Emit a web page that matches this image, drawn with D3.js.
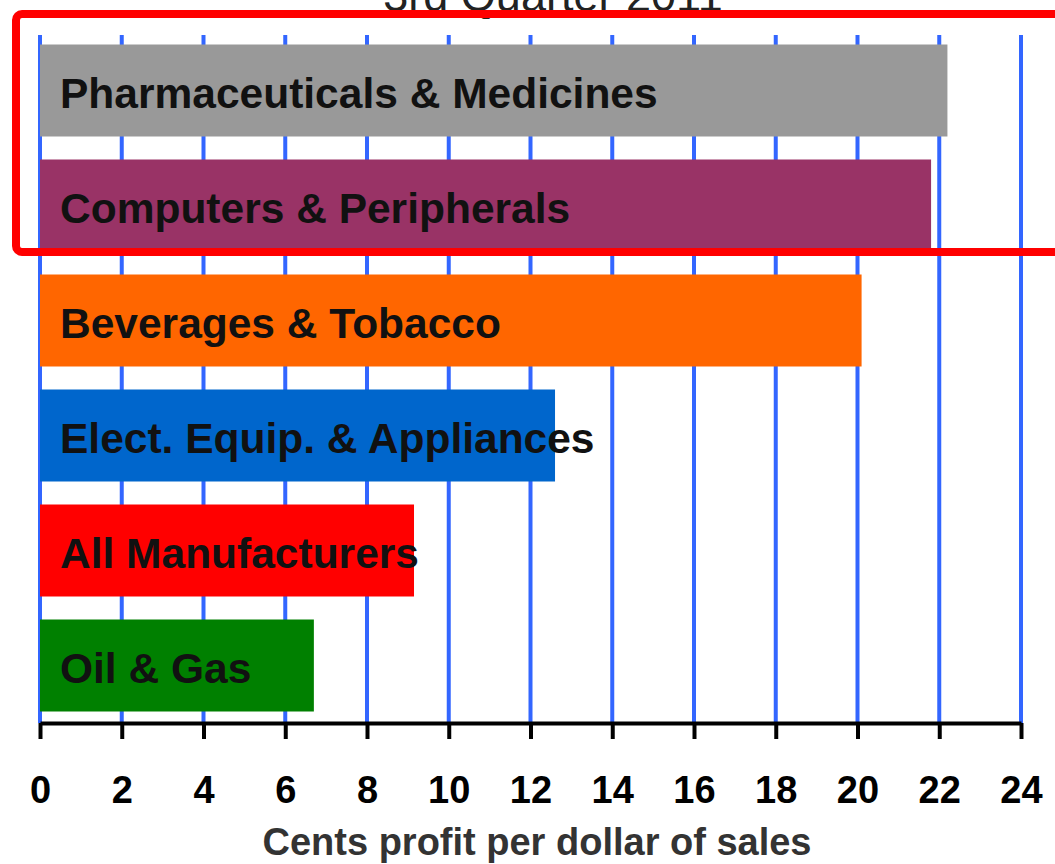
<!DOCTYPE html>
<html>
<head>
<meta charset="utf-8">
<script src="https://cdn.jsdelivr.net/npm/d3@7"></script>
<style>
  body { margin: 0; background: #fff; }
  svg { display: block; }
</style>
</head>
<body>
<div id="chart"></div>
<script>
// data
const industries = ["Pharmaceuticals & Medicines", "Computers & Peripherals", "Beverages & Tobacco",
  "Elect. Equip. & Appliances", "All Manufacturers", "Oil & Gas"];
const profit = [22.2, 21.8, 20.1, 12.6, 9.15, 6.7];
const barColors = ["#999999", "#993366", "#ff6600", "#0066cc", "#ff0000", "#008000"];
const xTicks = [0, 2, 4, 6, 8, 10, 12, 14, 16, 18, 20, 22, 24];

const WIDTH = 1055, HEIGHT = 864;
const FONT = "Liberation Sans, Arial, sans-serif";
const svg = d3.select("#chart").append("svg")
  .attr("width", WIDTH).attr("height", HEIGHT);

const x = d3.scaleLinear().domain([0, 24]).range([40, 1021]);
const y = d3.scaleBand().domain(industries).range([33, 723]).paddingInner(0.2).paddingOuter(0.1);

// title, mostly cut off at the top (as in the original)
svg.append("text")
  .attr("x", 553).attr("y", 11)
  .attr("text-anchor", "middle")
  .attr("font-family", FONT)
  .attr("font-size", 45)
  .attr("fill", "#222")
  .text("3rd Quarter 2011");

// blue gridlines
svg.append("g").selectAll("line")
  .data(xTicks)
  .join("line")
  .attr("x1", d => x(d)).attr("x2", d => x(d))
  .attr("y1", 35).attr("y2", 723)
  .attr("stroke", "#3366ff")
  .attr("stroke-width", 4);

// bars
svg.append("g").selectAll("rect")
  .data(industries)
  .join("rect")
  .attr("x", x(0))
  .attr("y", d => y(d))
  .attr("width", (d, i) => x(profit[i]) - x(0))
  .attr("height", y.bandwidth())
  .attr("fill", (d, i) => barColors[i]);

// labels inside bars
svg.append("g").selectAll("text")
  .data(industries)
  .join("text")
  .attr("x", 60)
  .attr("y", d => y(d) + y.bandwidth() / 2)
  .attr("dy", "0.42em")
  .attr("font-family", FONT)
  .attr("font-weight", "bold")
  .attr("font-size", 42.5)
  .attr("fill", "#111")
  .text(d => d);

// x axis
const axis = svg.append("g")
  .attr("transform", "translate(0,723)")
  .call(d3.axisBottom(x).tickValues(xTicks).tickSize(16).tickPadding(37).tickSizeOuter(0));
axis.select(".domain").attr("stroke", "#000").attr("stroke-width", 4);
axis.selectAll(".tick line").attr("stroke", "#000").attr("stroke-width", 4);
axis.selectAll(".tick text")
  .attr("font-family", FONT)
  .attr("font-weight", "bold")
  .attr("font-size", 38)
  .attr("fill", "#000");

svg.append("text")
  .attr("x", 537).attr("y", 855)
  .attr("text-anchor", "middle")
  .attr("font-family", FONT)
  .attr("font-weight", "bold")
  .attr("font-size", 38)
  .attr("fill", "#333")
  .text("Cents profit per dollar of sales");

// red highlight box round the top two bars
svg.append("rect")
  .attr("x", 16).attr("y", 14)
  .attr("width", 1100).attr("height", 238)
  .attr("rx", 6)
  .attr("fill", "none")
  .attr("stroke", "#ff0000")
  .attr("stroke-width", 8);
</script>
</body>
</html>
